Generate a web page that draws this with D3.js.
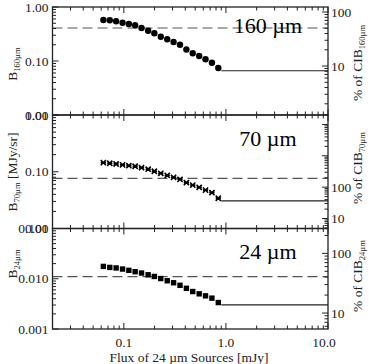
<!DOCTYPE html>
<html>
<head>
<meta charset="utf-8">
<script src="https://cdn.jsdelivr.net/npm/d3@7"></script>
<style>
  body { margin: 0; background: #fff; }
  svg { display: block; }
</style>
</head>
<body>
<svg id="chart" width="372" height="364"></svg>
<script>
// ---- data ----
const flux = [0.063, 0.0728, 0.084, 0.0971, 0.112, 0.129, 0.149, 0.173, 0.199, 0.230,
              0.266, 0.307, 0.355, 0.410, 0.473, 0.547, 0.631, 0.729, 0.842];
const b160 = [0.574, 0.567, 0.544, 0.512, 0.484, 0.458, 0.408, 0.364, 0.326, 0.282,
              0.252, 0.225, 0.200, 0.163, 0.139, 0.124, 0.108, 0.093, 0.074];
const b70  = [0.145, 0.141, 0.137, 0.132, 0.128, 0.125, 0.118, 0.111, 0.102, 0.0938,
              0.0865, 0.0797, 0.0734, 0.0644, 0.0581, 0.0531, 0.0474, 0.0428, 0.0341];
const b24  = [0.0176, 0.0168, 0.0164, 0.0156, 0.0147, 0.0138, 0.0130, 0.0120, 0.0111, 0.0101,
              0.00912, 0.00832, 0.00741, 0.00646, 0.00557, 0.00501, 0.00457, 0.00411, 0.00336];

const bands = ['160', '70', '24'];
const dashLevels = [0.408, 0.0765, 0.0110];     // reference CIB level
const floorLevels = [0.066, 0.0306, 0.00302];   // level beyond the last source bin
const floorRange = [0.9, 10];

const xDomain = [0.02, 10];
const xTicks = [0.1, 1, 10];
const xTickLabels = ['0.1', '1.0', '10.0'];

const leftDomains = [[0.01, 1], [0.01, 1], [0.001, 0.1]];
const leftTickLabels = [['0.01', '0.10', '1.00'], ['0.01', '0.10', '1.00'], ['0.001', '0.010', '0.100']];
const rightDomains = [[1.24, 124], [4.8, 20000], [5.4, 261]];
const rightTicks = [10, 100];

// ---- layout ----
const W = 372, H = 364;
const left = 52.5, right = 328;
const panels = [
  { top: 7, bottom: 115 },
  { top: 115, bottom: 228.5 },
  { top: 228.5, bottom: 329 }
];
const font = '"Liberation Serif", "DejaVu Serif", serif';
const ink = '#222';

const svg = d3.select('#chart');
svg.append('rect').attr('width', W).attr('height', H).attr('fill', '#fff');

const x = d3.scaleLog().domain(xDomain).range([left, right]);

// minor ticks for a log scale: 1..9 x 10^k inside the domain
function logTicks(domain) {
  const lo = Math.floor(Math.log10(domain[0]) + 1e-9);
  const hi = Math.ceil(Math.log10(domain[1]) - 1e-9);
  const out = [];
  for (let k = lo; k <= hi; k++) {
    for (let m = 1; m <= 9; m++) {
      const v = m * Math.pow(10, k);
      if (v >= domain[0] * 0.999 && v <= domain[1] * 1.001) out.push({ v, major: m === 1 });
    }
  }
  return out;
}

const series = [b160, b70, b24];

panels.forEach((p, i) => {
  const y = d3.scaleLog().domain(leftDomains[i]).range([p.bottom, p.top]);
  const yR = d3.scaleLog().domain(rightDomains[i]).range([p.bottom, p.top]);
  const g = svg.append('g').attr('class', 'panel-' + bands[i]);

  // dashed reference line
  g.append('line')
    .attr('x1', left).attr('x2', right)
    .attr('y1', y(dashLevels[i])).attr('y2', y(dashLevels[i]))
    .attr('stroke', '#555').attr('stroke-width', 1.1)
    .attr('stroke-dasharray', '10,5');

  // solid floor line
  g.append('line')
    .attr('x1', x(floorRange[0])).attr('x2', x(floorRange[1]))
    .attr('y1', y(floorLevels[i])).attr('y2', y(floorLevels[i]))
    .attr('stroke', ink).attr('stroke-width', 1.2);

  // markers
  const pts = flux.map((f, j) => ({ f, b: series[i][j] }));
  if (i === 0) {
    g.selectAll('circle').data(pts).enter().append('circle')
      .attr('cx', d => x(d.f)).attr('cy', d => y(d.b))
      .attr('r', 3.2).attr('fill', '#000');
  } else if (i === 1) {
    const s = 2.6;
    const m = g.selectAll('g.mk').data(pts).enter().append('g')
      .attr('class', 'mk')
      .attr('transform', d => `translate(${x(d.f)},${y(d.b)})`);
    m.append('path')
      .attr('d', `M${-s},${-s}L${s},${s}M${-s},${s}L${s},${-s}M${-s},0L${s},0`)
      .attr('stroke', '#000').attr('stroke-width', 1.6).attr('fill', 'none');
  } else {
    const s = 5.4;
    g.selectAll('rect.mk').data(pts).enter().append('rect')
      .attr('class', 'mk')
      .attr('x', d => x(d.f) - s / 2).attr('y', d => y(d.b) - s / 2)
      .attr('width', s).attr('height', s).attr('fill', '#000');
  }

  // frame
  g.append('rect')
    .attr('x', left).attr('y', p.top)
    .attr('width', right - left).attr('height', p.bottom - p.top)
    .attr('fill', 'none').attr('stroke', ink).attr('stroke-width', 1.3);

  // x ticks on top and bottom edges (inward)
  logTicks(xDomain).forEach(t => {
    const len = t.major ? 6 : 3.5;
    const xx = x(t.v);
    g.append('line').attr('x1', xx).attr('x2', xx)
      .attr('y1', p.bottom).attr('y2', p.bottom - len)
      .attr('stroke', ink).attr('stroke-width', 1);
    g.append('line').attr('x1', xx).attr('x2', xx)
      .attr('y1', p.top).attr('y2', p.top + len)
      .attr('stroke', ink).attr('stroke-width', 1);
  });

  // left y ticks
  logTicks(leftDomains[i]).forEach(t => {
    const len = t.major ? 6 : 3.5;
    g.append('line').attr('x1', left).attr('x2', left + len)
      .attr('y1', y(t.v)).attr('y2', y(t.v))
      .attr('stroke', ink).attr('stroke-width', 1);
  });
  const majL = logTicks(leftDomains[i]).filter(t => t.major);
  majL.forEach((t, k) => {
    g.append('text')
      .attr('x', left - 4).attr('y', y(t.v) + 4.5)
      .attr('text-anchor', 'end')
      .attr('font-family', font).attr('font-size', 13.5)
      .attr('fill', ink)
      .text(leftTickLabels[i][k]);
  });

  // right y ticks (% of CIB)
  logTicks(rightDomains[i]).forEach(t => {
    const len = t.major ? 6 : 3.5;
    g.append('line').attr('x1', right).attr('x2', right - len)
      .attr('y1', yR(t.v)).attr('y2', yR(t.v))
      .attr('stroke', ink).attr('stroke-width', 1);
  });
  rightTicks.forEach(v => {
    g.append('text')
      .attr('x', right + 3).attr('y', yR(v) + 4.5)
      .attr('font-family', font).attr('font-size', 13.5)
      .attr('fill', ink)
      .text(v);
  });

  // band label
  g.append('text')
    .attr('x', 268).attr('y', [33, 146, 259][i])
    .attr('text-anchor', 'middle')
    .attr('font-family', font).attr('font-size', 22)
    .attr('fill', '#000')
    .text(bands[i] + ' \u00b5m');

  // left axis title
  const cyL = [64, 172, 264][i];
  const tl = g.append('text')
    .attr('transform', `translate(17,${cyL}) rotate(-90)`)
    .attr('text-anchor', 'middle')
    .attr('font-family', font).attr('font-size', 13.5)
    .attr('fill', ink);
  tl.append('tspan').text('B');
  tl.append('tspan').attr('font-size', 8.5).attr('dy', 3).text(bands[i] + '\u00b5m');
  if (i === 1) tl.append('tspan').attr('dy', -3).text(' [MJy/sr]');

  // right axis title
  const cyR = [63, 168, 276][i];
  const tr = g.append('text')
    .attr('transform', `translate(362,${cyR}) rotate(-90)`)
    .attr('text-anchor', 'middle')
    .attr('font-family', font).attr('font-size', 13.5)
    .attr('fill', ink);
  tr.append('tspan').text('% of CIB');
  tr.append('tspan').attr('font-size', 8.5).attr('dy', 3).text(bands[i] + '\u00b5m');
});

// x tick labels
const bottom = panels[2].bottom;
xTicks.forEach((v, k) => {
  svg.append('text')
    .attr('x', x(v) - (k === 2 ? 4 : 0)).attr('y', bottom + 18)
    .attr('text-anchor', 'middle')
    .attr('font-family', font).attr('font-size', 13.5)
    .attr('fill', ink)
    .text(xTickLabels[k]);
});

svg.append('text')
  .attr('x', 189).attr('y', 362)
  .attr('text-anchor', 'middle')
  .attr('font-family', font).attr('font-size', 13.5)
  .attr('fill', ink)
  .text('Flux of 24 \u00b5m Sources [mJy]');
</script>
</body>
</html>
